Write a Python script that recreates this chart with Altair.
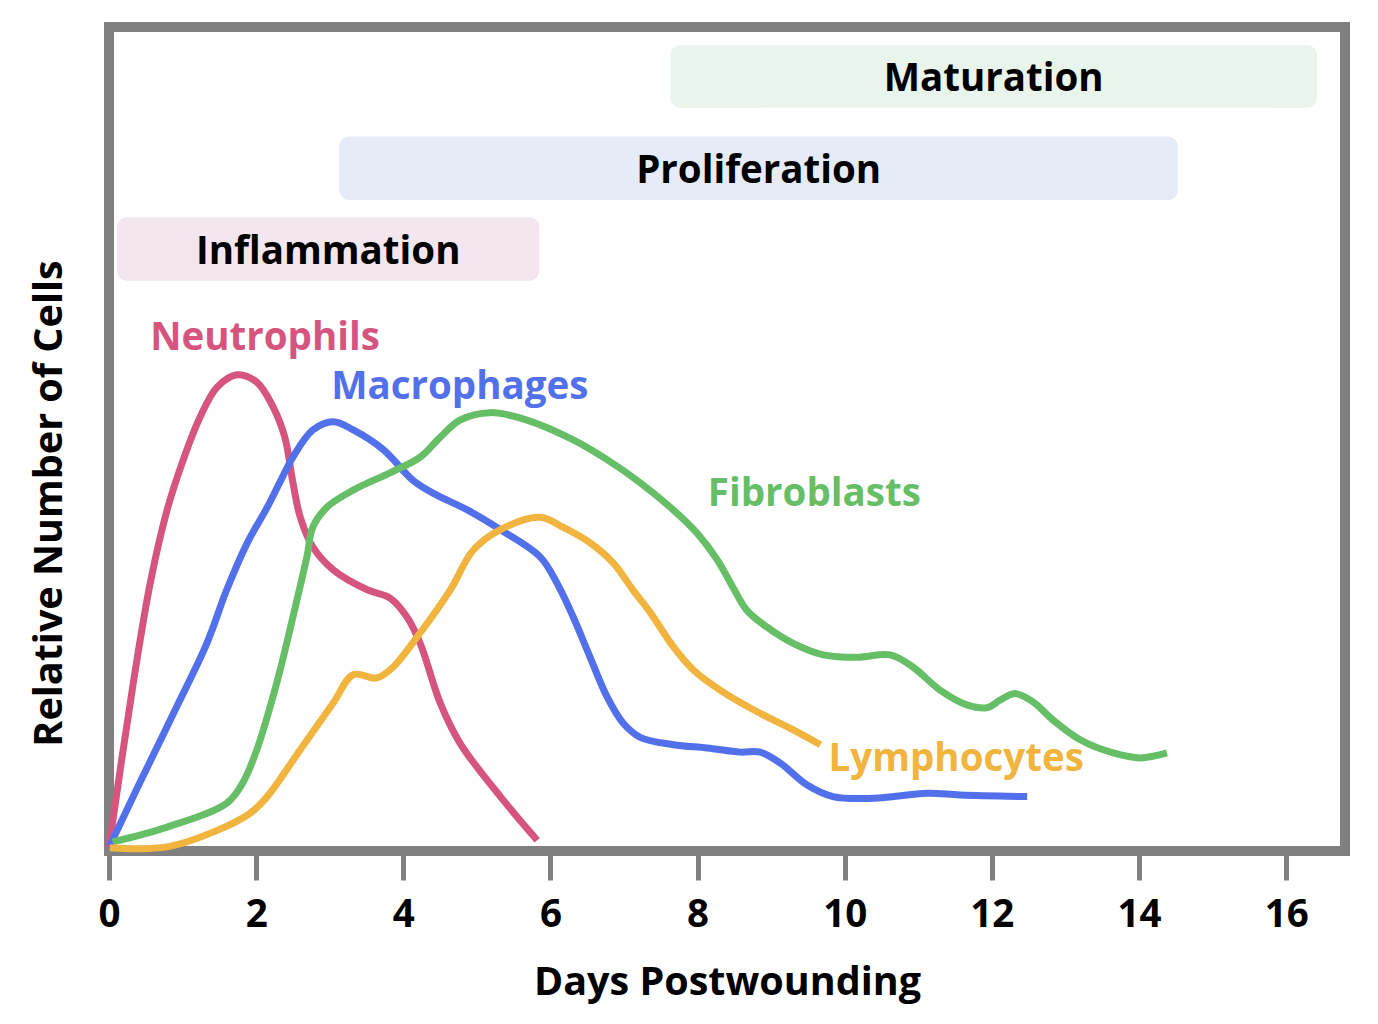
import altair as alt
import pandas as pd

# ---- data ----
neut_x = [0.0, 0.33, 0.56, 0.79, 1.01, 1.24, 1.47, 1.74, 2.01, 2.23, 2.39, 2.50, 2.60, 2.77, 3.05, 3.51, 3.82, 4.05, 4.23, 4.50, 4.77, 5.32, 5.82]
neut_y = [0.5, 20.4, 32.5, 41.4, 47.5, 52.7, 56.3, 57.8, 56.9, 53.9, 50.2, 44.7, 40.5, 36.9, 34.1, 31.7, 30.7, 28.4, 25.2, 18.0, 13.1, 6.6, 1.3]

macro_x = [0.01, 0.42, 0.92, 1.33, 1.60, 1.88, 2.15, 2.32, 2.50, 2.77, 3.05, 3.32, 3.73, 4.13, 4.41, 4.87, 5.32, 5.86, 6.09, 6.31, 6.54, 6.77, 6.99, 7.22, 7.67, 8.13, 8.58, 8.85, 9.12, 9.49, 9.84, 10.39, 11.12, 11.57, 12.48]
macro_y = [0.6, 8.3, 17.5, 25.2, 31.7, 37.4, 41.7, 44.7, 47.8, 51.1, 52.1, 51.1, 48.7, 45.0, 43.4, 41.4, 39.0, 35.7, 32.5, 28.4, 23.5, 18.7, 15.5, 13.8, 12.9, 12.5, 12.0, 12.0, 10.7, 8.0, 6.6, 6.4, 7.0, 6.8, 6.6]

fibro_x = [0.05, 0.79, 1.60, 1.82, 2.01, 2.28, 2.50, 2.69, 2.77, 2.96, 3.32, 3.82, 4.23, 4.50, 4.77, 5.18, 5.68, 6.31, 6.77, 7.22, 7.67, 7.99, 8.27, 8.48, 8.67, 8.94, 9.30, 9.71, 10.17, 10.62, 10.93, 11.30, 11.67, 11.94, 12.11, 12.32, 12.56, 12.83, 13.20, 13.65, 14.02, 14.38]
fibro_y = [1.1, 2.9, 5.8, 8.3, 12.3, 20.4, 28.4, 35.7, 39.3, 41.7, 43.8, 45.9, 47.8, 50.2, 52.3, 53.2, 52.3, 49.9, 47.5, 44.7, 41.4, 38.6, 35.3, 32.0, 29.2, 27.2, 25.2, 23.8, 23.5, 23.8, 22.3, 19.5, 17.7, 17.4, 18.3, 19.1, 18.1, 15.9, 13.5, 11.9, 11.3, 11.9]

lymph_x = [0.01, 0.79, 1.47, 1.92, 2.15, 2.60, 3.05, 3.32, 3.64, 3.86, 4.19, 4.64, 4.95, 5.32, 5.86, 6.17, 6.54, 6.85, 7.12, 7.36, 7.67, 7.94, 8.31, 8.81, 9.30, 9.67]
lymph_y = [0.4, 0.5, 2.5, 4.6, 6.6, 12.3, 18.0, 21.4, 21.0, 22.3, 26.0, 31.7, 36.5, 39.0, 40.5, 39.3, 37.4, 35.0, 31.7, 28.9, 24.8, 22.0, 19.5, 16.9, 14.7, 12.9]

cells = ["Neutrophils", "Macrophages", "Fibroblasts", "Lymphocytes"]
cell_colors = ["#D6557F", "#5370EB", "#66BE66", "#F0B43F"]
cell_label_x = [0.56, 3.02, 8.14, 9.78]
cell_label_y = [62.5, 56.6, 43.6, 11.4]

phases = ["Inflammation", "Proliferation", "Maturation"]
phase_start = [0.11, 3.13, 7.63]
phase_end = [5.85, 14.53, 16.42]
phase_low = [69.2, 79.0, 90.2]
phase_high = [76.9, 86.7, 97.8]
phase_colors = ["#F3E6EF", "#E6EBF8", "#E8F4EC"]

x_ticks = [0, 2, 4, 6, 8, 10, 12, 14, 16]

# ---- build tables ----
rows = []
for name, xs, ys in zip(cells, [neut_x, macro_x, fibro_x, lymph_x], [neut_y, macro_y, fibro_y, lymph_y]):
    for i, (xv, yv) in enumerate(zip(xs, ys)):
        rows.append({"cell": name, "x": xv, "y": yv, "order": i})
lines_df = pd.DataFrame(rows)

labels_df = pd.DataFrame({"cell": cells, "x": cell_label_x, "y": cell_label_y})
phase_df = pd.DataFrame({"phase": phases, "x": phase_start, "x2": phase_end,
                         "y": phase_low, "y2": phase_high})
phase_df["xm"] = (phase_df["x"] + phase_df["x2"]) / 2
phase_df["ym"] = (phase_df["y"] + phase_df["y2"]) / 2

FONT = "Open Sans"
GRAY = "#808080"
MARK_FS = 38.5
TITLE_FS = 39.5

xscale = alt.Scale(domain=[0, 16.8], nice=False, zero=False)
yscale = alt.Scale(domain=[0, 100], nice=False, zero=False)
xaxis = alt.Axis(title="Days Postwounding", values=x_ticks, format="d", domain=False,
                 grid=False, ticks=True, tickSize=29, tickWidth=5, tickColor=GRAY,
                 labelFont=FONT, labelFontWeight="bold", labelFontSize=MARK_FS, labelColor="black",
                 labelPadding=16, labelFlush=False,
                 titleFont=FONT, titleFontWeight="bold", titleFontSize=TITLE_FS,
                 titleColor="black", titlePadding=30)
yaxis = alt.Axis(title="Relative Number of Cells", labels=False, ticks=False, domain=False,
                 grid=False, titleFont=FONT, titleFontWeight="bold", titleFontSize=TITLE_FS,
                 titleColor="black", titlePadding=40, titleY=476)

color_scale = alt.Scale(domain=cells, range=cell_colors)
phase_scale = alt.Scale(domain=phases, range=phase_colors)

rects = alt.Chart(phase_df).mark_rect(cornerRadius=10).encode(
    x=alt.X("x:Q", scale=xscale, axis=xaxis),
    x2="x2:Q",
    y=alt.Y("y:Q", scale=yscale, axis=yaxis),
    y2="y2:Q",
    fill=alt.Fill("phase:N", scale=phase_scale, legend=None),
)

phase_text = alt.Chart(phase_df).mark_text(
    font=FONT, fontWeight="bold", fontSize=MARK_FS, color="black", align="center",
    baseline="middle", dy=3
).encode(
    x=alt.X("xm:Q", scale=xscale, axis=xaxis),
    y=alt.Y("ym:Q", scale=yscale, axis=yaxis),
    text="phase:N",
)

lines = alt.Chart(lines_df).mark_line(interpolate="catmull-rom", strokeWidth=7).encode(
    x=alt.X("x:Q", scale=xscale, axis=xaxis),
    y=alt.Y("y:Q", scale=yscale, axis=yaxis),
    stroke=alt.Stroke("cell:N", scale=color_scale, legend=None),
    detail="cell:N",
    order="order:Q",
)

cell_text = alt.Chart(labels_df).mark_text(
    font=FONT, fontWeight="bold", fontSize=MARK_FS, align="left", baseline="middle", dy=2
).encode(
    x=alt.X("x:Q", scale=xscale, axis=xaxis),
    y=alt.Y("y:Q", scale=yscale, axis=yaxis),
    text="cell:N",
    color=alt.Color("cell:N", scale=color_scale, legend=None),
)

chart = alt.layer(rects, phase_text, lines, cell_text).resolve_scale(
    color="independent", fill="independent", stroke="independent"
).properties(
    width=1236, height=824,
    autosize=alt.AutoSizeParams(type="none"),
    padding={"left": 101, "top": 19, "right": 20, "bottom": 170},
    background="white",
).configure_view(stroke=GRAY, strokeWidth=10)

chart.save("out.html", embed_options={"renderer": "svg", "actions": False})
